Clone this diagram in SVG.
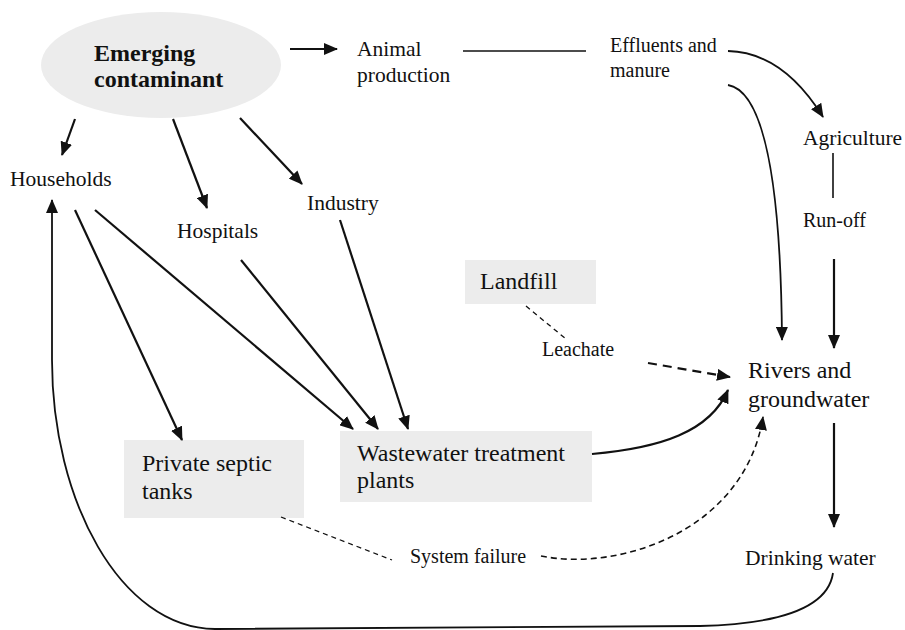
<svg xmlns="http://www.w3.org/2000/svg" width="905" height="630" viewBox="0 0 905 630">
<style>
text{font-family:'Liberation Serif','Times New Roman','DejaVu Serif',serif;fill:#111}
.m{font-size:21.5px}
.s{font-size:20px}
.L{font-size:24px}
.b{font-size:24px;font-weight:bold}
.box{fill:#ececec}
.a{fill:none;stroke:#111;stroke-width:2.2}
.l{fill:none;stroke:#111;stroke-width:1.6}
.d{fill:none;stroke:#111;stroke-width:1.3;stroke-dasharray:5 4}
.dd{fill:none;stroke:#111;stroke-width:2.2;stroke-dasharray:9 6}
.ds{fill:none;stroke:#111;stroke-width:1.6;stroke-dasharray:6 4}
</style>
<defs>
<marker id="ah" markerUnits="userSpaceOnUse" viewBox="0 0 14 12" refX="13" refY="6" markerWidth="14" markerHeight="12" orient="auto">
<path d="M0,0 L14,6 L0,12 z" fill="#111"/>
</marker>
</defs>
<rect width="905" height="630" fill="#fff"/>
<g id="emerging">
<ellipse cx="161" cy="65" rx="120" ry="53" class="box"/>
<text x="94" y="61" class="b" font-family="Liberation Serif, serif">Emerging</text>
<text x="94" y="87" class="b" font-family="Liberation Serif, serif">contaminant</text>
</g>
<g id="animal"><text x="357" y="56" class="m">Animal</text><text x="357" y="82" class="m">production</text></g>
<g id="effluents"><text x="610" y="52" class="s">Effluents and</text><text x="610" y="77" class="s">manure</text></g>
<g id="agriculture"><text x="803" y="145" class="m">Agriculture</text></g>
<g id="runoff"><text x="803" y="227" class="s">Run-off</text></g>
<g id="households"><text x="10" y="186" class="m">Households</text></g>
<g id="hospitals"><text x="177" y="238" class="m">Hospitals</text></g>
<g id="industry"><text x="307" y="210" class="m">Industry</text></g>
<g id="landfill"><rect x="465" y="260" width="131" height="44" class="box"/><text x="480" y="289" class="L">Landfill</text></g>
<g id="leachate"><text x="542" y="356" class="s">Leachate</text></g>
<g id="rivers"><text x="748" y="378" class="L">Rivers and</text><text x="748" y="407" class="L">groundwater</text></g>
<g id="septic"><rect x="124" y="440" width="180" height="78" class="box"/><text x="142" y="471" class="L">Private septic</text><text x="142" y="499" class="L">tanks</text></g>
<g id="wwtp"><rect x="340" y="431" width="252" height="71" class="box"/><text x="357" y="461" class="L">Wastewater treatment</text><text x="357" y="488" class="L">plants</text></g>
<g id="failure"><text x="410" y="563" class="s">System failure</text></g>
<g id="drinking"><text x="745" y="565" class="m">Drinking water</text></g>
<g id="connectors">
<path class="a" d="M290,49 L337,49" marker-end="url(#ah)"/>
<path class="l" d="M463,51 L586,51"/>
<path class="a" style="stroke-width:1.8" d="M728,51 C770,52 800,80 823,117" marker-end="url(#ah)"/>
<path class="a" style="stroke-width:1.8" d="M728,85 C768,92 781,200 782,340" marker-end="url(#ah)"/>
<path class="l" d="M833,153 L833,198"/>
<path class="a" d="M834,259 L834,348" marker-end="url(#ah)"/>
<path class="a" d="M834,423 L834,527" marker-end="url(#ah)"/>
<path class="a" style="stroke-width:1.8" d="M833,573 C828,608 780,624 700,626 L215,629 C120,628 52,500 52,360 L52,200" marker-end="url(#ah)"/>
<path class="a" d="M75,119 L62,155" marker-end="url(#ah)"/>
<path class="a" d="M173,119 L207,208" marker-end="url(#ah)"/>
<path class="a" d="M240,118 L302,184" marker-end="url(#ah)"/>
<path class="a" d="M75,210 L182,440" marker-end="url(#ah)"/>
<path class="a" d="M95,210 L353,429" marker-end="url(#ah)"/>
<path class="a" d="M241,260 L378,429" marker-end="url(#ah)"/>
<path class="a" d="M340,220 L408,429" marker-end="url(#ah)"/>
<path class="d" d="M526,306 L566,339"/>
<path class="dd" d="M648,363 L730,377" marker-end="url(#ah)"/>
<path class="a" d="M592,454 C660,448 710,432 728,390" marker-end="url(#ah)"/>
<path class="d" d="M281,517 L392,560"/>
<path class="ds" d="M541,556 C620,572 745,530 763,417" marker-end="url(#ah)"/>
</g>
</svg>
